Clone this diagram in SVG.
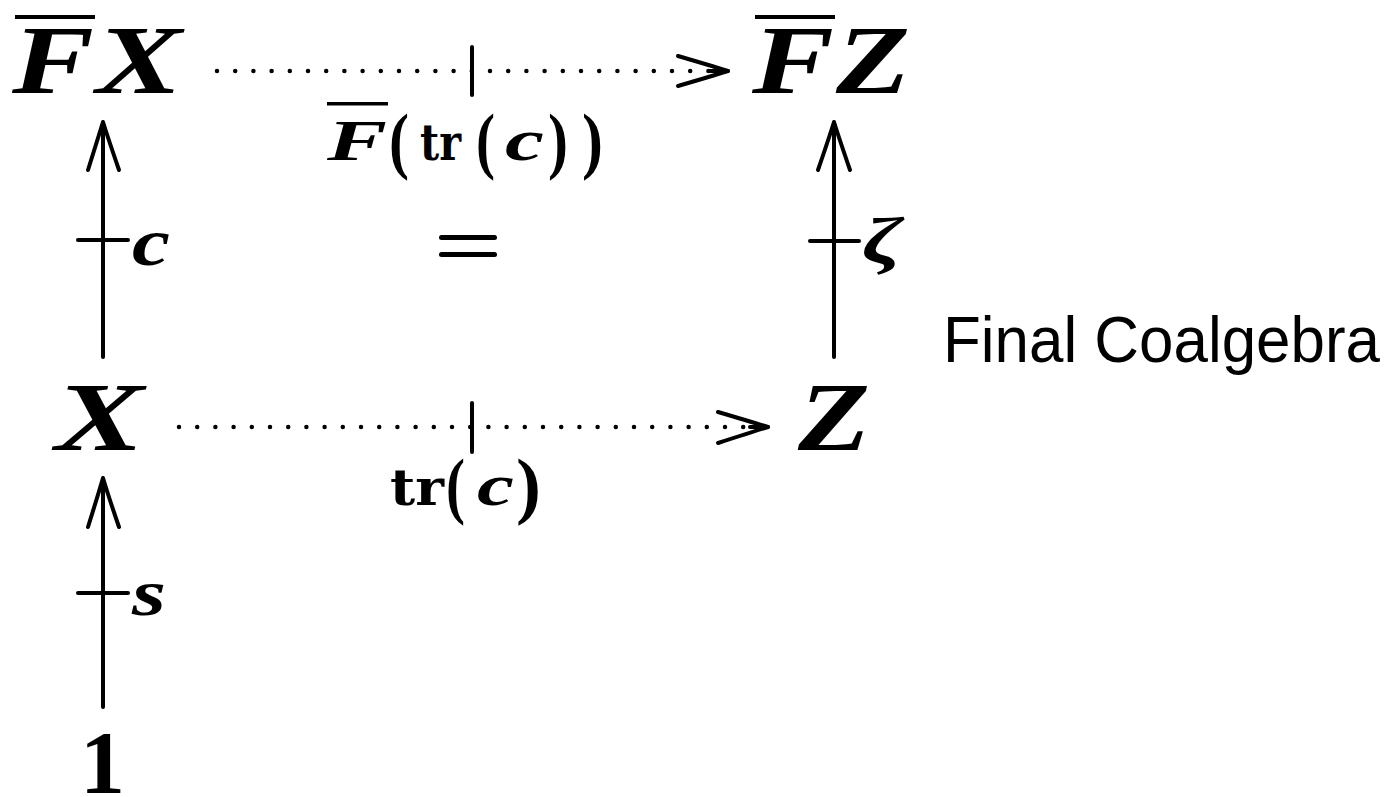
<svg xmlns="http://www.w3.org/2000/svg" width="1393" height="797" viewBox="0 0 1393 797">
<style>
.m{font-family:"Liberation Serif","DejaVu Serif",serif;font-weight:bold;font-style:italic;fill:#000}
.u{font-family:"Liberation Serif","DejaVu Serif",serif;font-weight:bold;font-style:normal;fill:#000}
.r{font-family:"DejaVu Serif","Liberation Serif",serif;font-weight:bold;font-style:normal;fill:#000}
.t{font-family:"Liberation Sans",Arial,sans-serif;fill:#000}
.ln{stroke:#000;stroke-width:4;fill:none;stroke-linecap:round}
.dot{stroke:#000;stroke-width:4.5;fill:none;stroke-linecap:round;stroke-dasharray:0 18.2}
.hd{stroke:#000;stroke-width:4;fill:none;stroke-linecap:round;stroke-linejoin:round}
.bar{fill:#000}
</style>
<rect width="1393" height="797" fill="#fff"/>
<g id="connectors">
  <line class="dot" x1="217" y1="71" x2="712" y2="71"/>
  <line class="ln" x1="710" y1="71" x2="728" y2="71"/>
  <path class="hd" d="M678,56 Q712,66 728,71 Q712,76 678,86"/>
  <line class="ln" x1="472" y1="47" x2="472" y2="95"/>
  <line class="dot" x1="179" y1="427" x2="752" y2="427"/>
  <line class="ln" x1="750" y1="427" x2="768" y2="427"/>
  <path class="hd" d="M718,412 Q752,422 768,427 Q752,432 718,443"/>
  <line class="ln" x1="472" y1="403" x2="472" y2="452"/>
  <line class="ln" x1="103" y1="357" x2="103" y2="123"/>
  <path class="hd" d="M88,170 Q98,138 103,122 Q108,138 119,170"/>
  <line class="ln" x1="78" y1="240" x2="128" y2="240"/>
  <line class="ln" x1="103" y1="707" x2="103" y2="479"/>
  <path class="hd" d="M88,527 Q98,495 103,478 Q108,495 119,527"/>
  <line class="ln" x1="78" y1="593" x2="128" y2="593"/>
  <line class="ln" x1="834" y1="357" x2="834" y2="123"/>
  <path class="hd" d="M818,170 Q829,138 834,122 Q839,138 850,170"/>
  <line class="ln" x1="810" y1="241" x2="859" y2="241"/>
</g>
<g id="node-FX">
  <rect class="bar" x="15" y="15" width="80" height="4"/>
  <text class="m" x="12" y="93" font-size="98" textLength="82" lengthAdjust="spacingAndGlyphs">F</text>
  <text class="m" x="96" y="93" font-size="98" textLength="86" lengthAdjust="spacingAndGlyphs">X</text>
</g>
<g id="node-FZ">
  <rect class="bar" x="755" y="15" width="80" height="4"/>
  <text class="m" x="752" y="93" font-size="98" textLength="82" lengthAdjust="spacingAndGlyphs">F</text>
  <text class="m" x="836" y="93" font-size="98" textLength="74" lengthAdjust="spacingAndGlyphs">Z</text>
</g>
<g id="node-X">
  <text class="m" x="55" y="450" font-size="98" textLength="89" lengthAdjust="spacingAndGlyphs">X</text>
</g>
<g id="node-Z">
  <text class="m" x="798" y="450" font-size="98" textLength="72" lengthAdjust="spacingAndGlyphs">Z</text>
</g>
<g id="node-1">
  <text class="u" x="80" y="792" font-size="88" textLength="45" lengthAdjust="spacingAndGlyphs">1</text>
</g>
<g id="label-top">
  <rect class="bar" x="327" y="102" width="61" height="3.5"/>
  <text class="m" x="327" y="160" font-size="57" textLength="60" lengthAdjust="spacingAndGlyphs">F</text>
  <text class="u" x="389" y="165" font-size="74" textLength="20" lengthAdjust="spacingAndGlyphs">(</text>
  <text class="r" x="420" y="160" font-size="50" textLength="41" lengthAdjust="spacingAndGlyphs">tr</text>
  <text class="u" x="476" y="165" font-size="74" textLength="19" lengthAdjust="spacingAndGlyphs">(</text>
  <text class="m" x="505" y="160" font-size="60" textLength="39" lengthAdjust="spacingAndGlyphs">c</text>
  <text class="u" x="548" y="165" font-size="74" textLength="20" lengthAdjust="spacingAndGlyphs">)</text>
  <text class="u" x="582" y="165" font-size="74" textLength="21" lengthAdjust="spacingAndGlyphs">)</text>
</g>
<g id="label-bottom">
  <text class="r" x="390" y="505" font-size="50" textLength="54" lengthAdjust="spacingAndGlyphs">tr</text>
  <text class="u" x="446" y="510" font-size="74" textLength="19" lengthAdjust="spacingAndGlyphs">(</text>
  <text class="m" x="477" y="505" font-size="60" textLength="37" lengthAdjust="spacingAndGlyphs">c</text>
  <text class="u" x="516" y="510" font-size="74" textLength="25" lengthAdjust="spacingAndGlyphs">)</text>
</g>
<g id="label-c">
  <text class="m" x="132" y="265" font-size="68" textLength="38" lengthAdjust="spacingAndGlyphs">c</text>
</g>
<g id="label-s">
  <text class="m" x="132" y="615" font-size="66" textLength="34" lengthAdjust="spacingAndGlyphs">s</text>
</g>
<g id="label-zeta">
  <text class="m" x="862" y="263" font-size="66" textLength="40" lengthAdjust="spacingAndGlyphs">ζ</text>
</g>
<g id="label-eq">
  <rect class="bar" x="439" y="235" width="58" height="5" rx="2.5"/>
  <rect class="bar" x="439" y="252" width="58" height="5" rx="2.5"/>
</g>
<g id="caption">
  <text class="t" x="943" y="362" font-size="64" textLength="437" lengthAdjust="spacingAndGlyphs">Final Coalgebra</text>
</g>
</svg>
